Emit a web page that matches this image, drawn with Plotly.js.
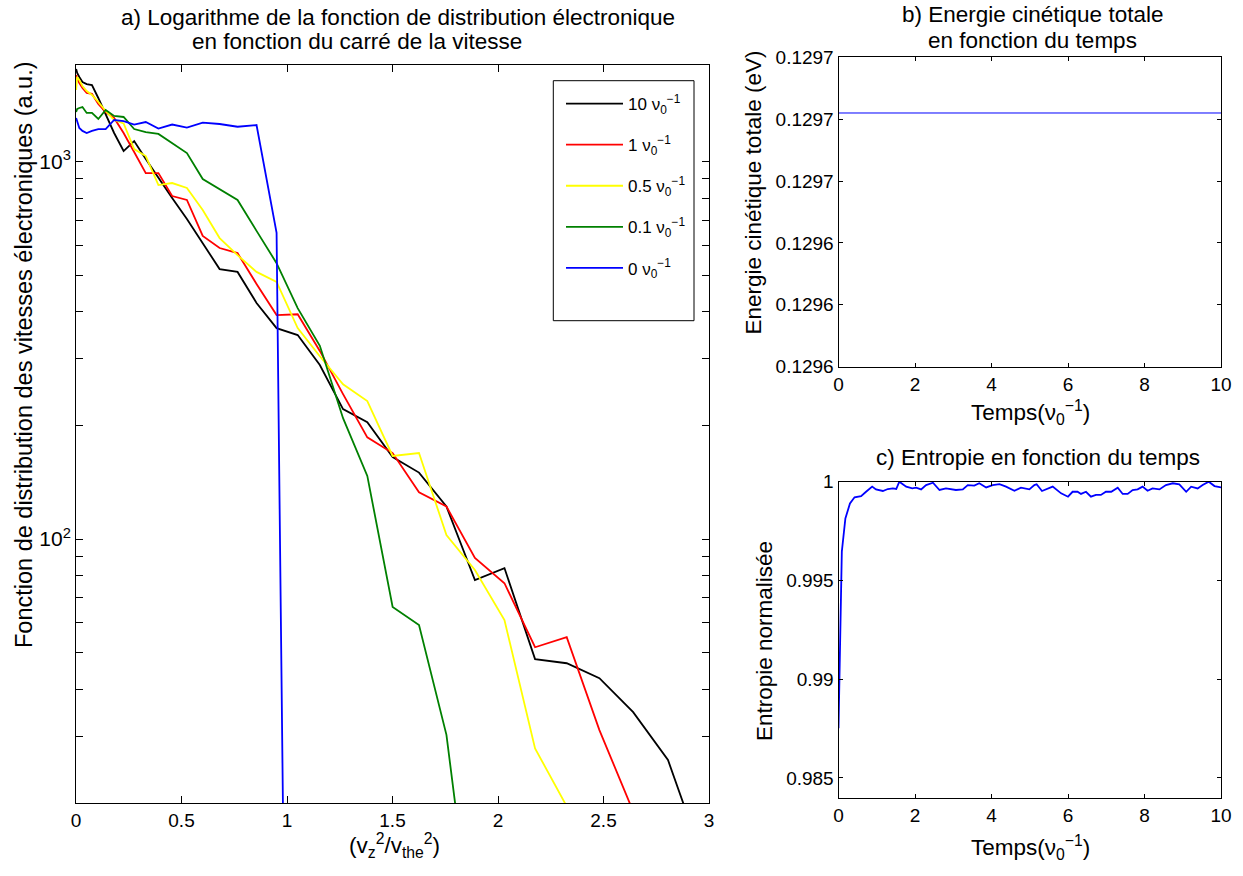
<!DOCTYPE html>
<html><head><meta charset="utf-8">
<script src="https://cdn.plot.ly/plotly-3.0.1.min.js"></script>
<style>html,body{margin:0;padding:0;background:#fff}#chart{width:1243px;height:876px}</style>
</head><body><div id="chart"></div>
<script>
// ---- Data ----
// x positions: (v_z^2 / v_the^2)
const v2 = [0.000625, 0.005625, 0.015625, 0.030625, 0.050625, 0.075625, 0.105625, 0.140625,
  0.180625, 0.225625, 0.275625, 0.330625, 0.390625, 0.455625, 0.525625, 0.600625, 0.680625,
  0.765625, 0.855625, 0.950625, 1.050625, 1.155625, 1.265625, 1.380625, 1.500625, 1.625625,
  1.755625, 1.890625, 2.030625, 2.175625, 2.325625, 2.480625, 2.640625, 2.805625, 2.975625];

const seriesNames = ["10 \u03bd<sub>0</sub><sup>\u22121</sup>", "1 \u03bd<sub>0</sub><sup>\u22121</sup>",
  "0.5 \u03bd<sub>0</sub><sup>\u22121</sup>", "0.1 \u03bd<sub>0</sub><sup>\u22121</sup>", "0 \u03bd<sub>0</sub><sup>\u22121</sup>"];
const seriesColors = ["#000000", "#ff0000", "#ffff00", "#008000", "#0000ff"];

const f_t10 = [1758, 1716, 1675, 1624, 1604, 1594, 1473, 1336, 1190, 1066, 1133, 1015, 904, 800, 704,
  608, 519, 510, 422, 362, 347, 289, 221, 204, 165, 150, 122, 77.9, 83.8, 48.1, 46.9, 42.8, 34.8, 26.0, 14.0];
const f_t1 = [1695, 1654, 1614, 1566, 1519, 1510, 1420, 1352, 1304, 1190, 1060, 932, 932, 810, 791,
  635, 590, 572, 474, 392, 394, 315, 242, 186, 169, 133, 122, 89.1, 76.4, 51.7, 55.0, 31.2, 19.0];
const f_t05 = [1547, 1675, 1644, 1585, 1537, 1501, 1438, 1361, 1288, 1261, 1079, 1034, 866, 877, 851,
  744, 627, 565, 510, 480, 362, 305, 257, 232, 166, 169, 102.5, 82.8, 61.0, 27.9, 19.6];
const f_t01 = [1352, 1378, 1386, 1394, 1345, 1345, 1296, 1369, 1320, 1312, 1219, 1197, 1183, 1119, 1053,
  899, 846, 791, 655, 538, 409, 325, 209, 147, 66.1, 59.2, 30.3, 7.7];
const f_t0 = [1304, 1272, 1227, 1205, 1190, 1205, 1219, 1219, 1288, 1280, 1253, 1272, 1223, 1253, 1230,
  1267, 1257, 1236, 1249, 647, 0.006];

const logTickVals = [20, 30, 40, 50, 60, 70, 80, 90, 100, 200, 300, 400, 500, 600, 700, 800, 900, 1000];
const logTickText = ["", "", "", "", "", "", "", "", "10<sup>2</sup>", "", "", "", "", "", "", "", "", "10<sup>3</sup>"];

// b) total kinetic energy vs time
const tempsE = [0, 2, 4, 6, 8, 10];
const energie = [0.129682, 0.129682, 0.129682, 0.129682, 0.129682, 0.129682];
const energieTicks = [0.1296, 0.12962, 0.12964, 0.12966, 0.12968, 0.1297];

// c) normalised entropy vs time
const tempsS = [0, 0.044, 0.087, 0.18, 0.30, 0.42, 0.59, 0.72, 0.88, 0.98, 1.16, 1.29, 1.42, 1.51, 1.59,
  1.77, 1.93, 2.03, 2.16, 2.29, 2.47, 2.64, 2.81, 3.07, 3.25, 3.38, 3.55, 3.68, 3.86, 4.03, 4.21, 4.38,
  4.6, 4.77, 4.99, 5.12, 5.18, 5.32, 5.43, 5.6, 5.82, 6.0, 6.12, 6.25, 6.34, 6.47, 6.6, 6.73, 6.86, 6.99,
  7.13, 7.3, 7.43, 7.56, 7.69, 7.82, 7.95, 8.08, 8.21, 8.39, 8.56, 8.74, 8.91, 9.09, 9.22, 9.39, 9.52,
  9.68, 9.83, 10];
const entropie = [0.98752, 0.99232, 0.99646, 0.99814, 0.9989, 0.99921, 0.99927, 0.99949, 0.99975, 0.99961,
  0.99953, 0.99963, 0.99966, 0.99963, 1.0, 0.99975, 0.99966, 0.9997, 0.99961, 0.99983,
  0.99995, 0.99958, 0.99966, 0.99958, 0.99961, 0.99983, 0.9998, 0.99992, 0.99971, 0.99983,
  0.99988, 0.99975, 0.99954, 0.9997, 0.99961, 0.99983, 0.99987, 0.99953, 0.99961, 0.99975,
  0.99941, 0.99924, 0.99949, 0.99949, 0.99938, 0.99949, 0.99924, 0.99933, 0.99933, 0.99949,
  0.99949, 0.9997, 0.99938, 0.99938, 0.99958, 0.99961, 0.99975, 0.99954, 0.99966, 0.99961,
  0.99983, 0.99992, 0.99987, 0.99949, 0.99975, 0.99966, 0.99983, 1.0, 0.99978, 0.99971];
const entropieTicks = [0.985, 0.99, 0.995, 1];

// ---- Build ----
const W = 1243, H = 876;
const px = x => x / W;
const py = y => 1 - y / H;
const FONT = '"Liberation Sans", Arial, Helvetica, sans-serif';

const allF = [f_t10, f_t1, f_t05, f_t01, f_t0];
const traces = allF.map((f, i) => ({
  type: 'scatter', mode: 'lines', x: v2.slice(0, f.length), y: f,
  name: seriesNames[i], legendgroup: 'g' + i,
  line: {color: seriesColors[i], width: 1.8},
  xaxis: 'x', yaxis: 'y', hoverinfo: 'skip'
}));
traces.push({type: 'scatter', mode: 'lines', x: tempsE, y: energie, showlegend: false,
  line: {color: '#0000ff', width: 1}, xaxis: 'x2', yaxis: 'y2', hoverinfo: 'skip'});
traces.push({type: 'scatter', mode: 'lines', x: tempsS, y: entropie, showlegend: false,
  line: {color: '#0000ff', width: 1.8}, xaxis: 'x3', yaxis: 'y3', hoverinfo: 'skip'});

const axBase = {showline: true, linecolor: '#000', linewidth: 1, mirror: 'ticks', ticks: 'inside',
  tickcolor: '#000', tickwidth: 1, showgrid: false, zeroline: false,
  tickfont: {family: FONT, size: 19, color: '#000'}};

const ann = (text, x, y, size, extra) => Object.assign({
  text: text, x: px(x), y: py(y), xref: 'paper', yref: 'paper', showarrow: false,
  xanchor: 'center', yanchor: 'middle', font: {family: FONT, size: size, color: '#000'}
}, extra || {});

const layout = {
  width: W, height: H, margin: {l: 0, r: 0, t: 0, b: 0},
  paper_bgcolor: '#fff', plot_bgcolor: '#fff', font: {family: FONT, color: '#000'},
  xaxis: Object.assign({}, axBase, {domain: [px(76), px(709)], range: [0, 3], tick0: 0, dtick: 0.5,
    ticklen: 7, anchor: 'y'}),
  yaxis: Object.assign({}, axBase, {domain: [py(803), py(65)], type: 'log',
    range: [Math.log10(20), 3.2556], tickmode: 'array', tickvals: logTickVals, ticktext: logTickText,
    ticklen: 7, anchor: 'x', tickfont: {family: FONT, size: 21, color: '#000'}}),
  xaxis2: Object.assign({}, axBase, {domain: [px(838.5), px(1221)], range: [0, 10], dtick: 2,
    ticklen: 4, anchor: 'y2'}),
  yaxis2: Object.assign({}, axBase, {domain: [py(366.7), py(57.3)], range: [0.1296, 0.1297],
    tickmode: 'array', tickvals: energieTicks, tickformat: '.4f', ticklen: 4, anchor: 'x2'}),
  xaxis3: Object.assign({}, axBase, {domain: [px(838.5), px(1221)], range: [0, 10], dtick: 2,
    ticklen: 4, anchor: 'y3'}),
  yaxis3: Object.assign({}, axBase, {domain: [py(797.7), py(481.7)], range: [0.984, 1.0],
    tickmode: 'array', tickvals: entropieTicks, ticklen: 4, anchor: 'x3'}),
  showlegend: true,
  legend: {x: px(561), y: py(86), xanchor: 'left', yanchor: 'top', bgcolor: 'rgba(0,0,0,0)',
    borderwidth: 0, font: {family: FONT, size: 17, color: '#000'}, traceorder: 'grouped',
    tracegroupgap: 16, itemwidth: 57},
  shapes: [{type: 'rect', xref: 'paper', yref: 'paper', x0: px(553.3), x1: px(694), y0: py(320.7), y1: py(80.7),
    line: {color: '#000', width: 1}, fillcolor: '#fff', layer: 'above'}],
  annotations: [
    ann('a) Logarithme de la fonction de distribution électronique', 398, 18, 22.5),
    ann('en fonction du carré de la vitesse', 357, 42, 22.5),
    ann('b) Energie cinétique totale', 1032, 15, 22.5),
    ann('en fonction du temps', 1032, 40, 22.5),
    ann('c) Entropie en fonction du temps', 1037.5, 457.5, 22.5),
    ann('Fonction de distribution des vitesses électroniques (a.u.)', 24, 355, 23.5, {textangle: -90}),
    ann('Energie cinétique totale (eV)', 752.5, 193, 22.5, {textangle: -90}),
    ann('Entropie normalisée', 764, 641, 22.5, {textangle: -90}),
    ann('(v<sub>z</sub><sup>2</sup>/v<sub>the</sub><sup>2</sup>)', 394, 845, 22.5),
    ann('Temps(\u03bd<sub>0</sub><sup>\u22121</sup>)', 1030, 412, 22.5),
    ann('Temps(\u03bd<sub>0</sub><sup>\u22121</sup>)', 1030, 847, 22.5)
  ]
};

Plotly.newPlot('chart', traces, layout, {staticPlot: true, displayModeBar: false});
</script>
</body></html>
